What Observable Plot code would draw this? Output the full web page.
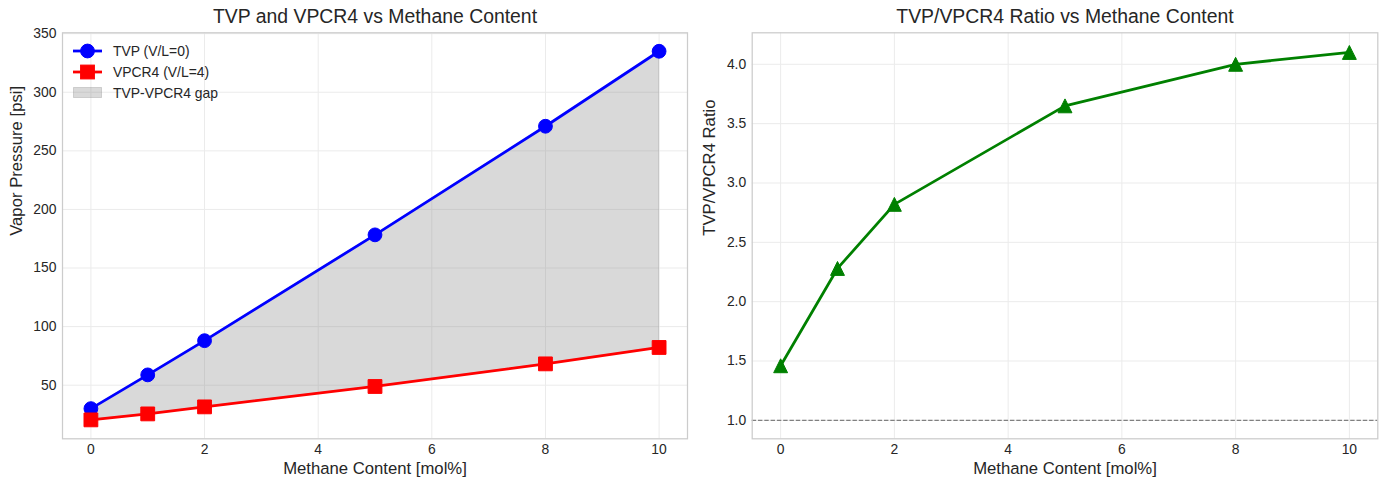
<!DOCTYPE html>
<html>
<head>
<meta charset="utf-8">
<script src="https://cdn.jsdelivr.net/npm/d3@7"></script>
<script src="https://cdn.jsdelivr.net/npm/@observablehq/plot@0.6"></script>
<style>
  html, body { margin: 0; padding: 0; background: #fff; }
  #wrap { position: relative; width: 1387px; height: 487px; display: flex; font-family: "Liberation Sans", Arial, sans-serif; color: #262626; }
  #wrap svg { overflow: visible; }
  .legend { position: absolute; left: 73px; top: 40px; font-size: 13.9px; color: #262626; }
  .item { position: absolute; left: 0; height: 22px; display: flex; align-items: center; white-space: nowrap; }
  .item span { margin-left: 11px; }
</style>
</head>
<body>
<div id="wrap">
  <div id="left" style="position:relative;width:693px;height:487px;"></div>
  <div id="right" style="position:relative;width:694px;height:487px;"></div>
</div>
<script>
// ---- data ----
const methane = [0, 1, 2, 5, 8, 10];
const tvp = [30, 58.8, 88, 178.3, 271, 335];
const vpcr4 = [20.4, 25.5, 31.5, 48.9, 68.2, 82.2];
const ratio = [1.46, 2.28, 2.82, 3.65, 4.0, 4.10];
const xTicks = [0, 2, 4, 6, 8, 10];
const yTicksLeft = [50, 100, 150, 200, 250, 300, 350];
const yTicksRight = [1.0, 1.5, 2.0, 2.5, 3.0, 3.5, 4.0];
const titles = ["TVP and VPCR4 vs Methane Content", "TVP/VPCR4 Ratio vs Methane Content"];
const xLabel = "Methane Content [mol%]";
const yLabels = ["Vapor Pressure [psi]", "TVP/VPCR4 Ratio"];
const legendLabels = ["TVP (V/L=0)", "VPCR4 (V/L=4)", "TVP-VPCR4 gap"];

const rows = methane.map((m, i) => ({m, tvp: tvp[i], vpcr4: vpcr4[i], ratio: ratio[i]}));

// matplotlib-like marker shapes (half-size = r)
const squareSym = { draw(ctx, size) { const h = Math.sqrt(size / Math.PI); ctx.moveTo(-h, -h); ctx.lineTo(h, -h); ctx.lineTo(h, h); ctx.lineTo(-h, h); ctx.closePath(); } };
const triSym = { draw(ctx, size) { const h = Math.sqrt(size / Math.PI); ctx.moveTo(0, -h); ctx.lineTo(h, h); ctx.lineTo(-h, h); ctx.closePath(); } };

const FONT = "'Liberation Sans', Arial, sans-serif";
const TXT = "#262626";
const GRID = "#ebebeb";
const EDGE = "#cccccc";

function common(ticksY, fmtY) {
  return [
    Plot.gridX(xTicks, {stroke: GRID, strokeOpacity: 1, strokeWidth: 1}),
    Plot.gridY(ticksY, {stroke: GRID, strokeOpacity: 1, strokeWidth: 1}),
    Plot.axisX(xTicks, {tickSize: 0, tickPadding: 5, fontSize: 13.9, fill: TXT, label: null}),
    Plot.axisY(ticksY, {tickSize: 0, tickPadding: 6, fontSize: 13.9, fill: TXT, label: null, tickFormat: fmtY})
  ];
}
function labels(i, dxY) {
  return [
    Plot.text([titles[i]], {frameAnchor: "top", dy: -15.6, fontSize: 19.4, fill: TXT, lineAnchor: "middle"}),
    Plot.text([xLabel], {frameAnchor: "bottom", dy: 30, fontSize: 16.7, fill: TXT, lineAnchor: "middle"}),
    Plot.text([yLabels[i]], {frameAnchor: "left", dx: dxY, rotate: -90, fontSize: 16.7, fill: TXT, lineAnchor: "middle"})
  ];
}

const left = Plot.plot({
  width: 693, height: 487,
  marginLeft: 62, marginRight: 6, marginTop: 32.3, marginBottom: 48.7,
  style: {fontFamily: FONT, background: "white", overflow: "visible"},
  x: {domain: [-0.5, 10.5]},
  y: {domain: [4.25, 350.75]},
  marks: [
    ...common(yTicksLeft, d3.format("d")),
    Plot.areaY(rows, {x: "m", y1: "vpcr4", y2: "tvp", fill: "gray", fillOpacity: 0.3, stroke: "gray", strokeOpacity: 0.3, strokeWidth: 1}),
    Plot.line(rows, {x: "m", y: "tvp", stroke: "blue", strokeWidth: 2.78}),
    Plot.dot(rows, {x: "m", y: "tvp", r: 6.9, fill: "blue", stroke: "blue", strokeWidth: 1, symbol: "circle"}),
    Plot.line(rows, {x: "m", y: "vpcr4", stroke: "red", strokeWidth: 2.78}),
    Plot.dot(rows, {x: "m", y: "vpcr4", r: 6.9, fill: "red", stroke: "red", strokeWidth: 1, symbol: squareSym}),
    Plot.frame({stroke: EDGE, strokeWidth: 1.25}),
    ...labels(0, -46)
  ]
});

const right = Plot.plot({
  width: 694, height: 487,
  marginLeft: 58.7, marginRight: 9.7, marginTop: 32.3, marginBottom: 48.7,
  style: {fontFamily: FONT, background: "white", overflow: "visible"},
  x: {domain: [-0.5, 10.5]},
  y: {domain: [0.8445, 4.2655]},
  marks: [
    ...common(yTicksRight, d3.format(".1f")),
    Plot.ruleY([1], {stroke: "gray", strokeWidth: 1.2, strokeDasharray: "4.4,1.9"}),
    Plot.line(rows, {x: "m", y: "ratio", stroke: "green", strokeWidth: 2.78}),
    Plot.dot(rows, {x: "m", y: "ratio", r: 6.95, fill: "green", stroke: "green", strokeWidth: 1, symbol: triSym}),
    Plot.frame({stroke: EDGE, strokeWidth: 1.25}),
    ...labels(1, -43)
  ]
});

document.getElementById("left").appendChild(left);
document.getElementById("right").appendChild(right);

// legend (drawn inside the left axes, like matplotlib)
const lg = document.createElement("div");
lg.className = "legend";
const rowsY = [51, 72, 93];
const handles = [
  `<svg width="29" height="22"><line x1="0" y1="11" x2="29" y2="11" stroke="blue" stroke-width="2.78"/><circle cx="14.5" cy="11" r="6.9" fill="blue" stroke="blue"/></svg>`,
  `<svg width="29" height="22"><line x1="0" y1="11" x2="29" y2="11" stroke="red" stroke-width="2.78"/><rect x="7.6" y="4.1" width="13.8" height="13.8" fill="red" stroke="red"/></svg>`,
  `<svg width="29" height="22"><rect x="0.5" y="5.5" width="28" height="10" fill="gray" fill-opacity="0.3" stroke="gray" stroke-opacity="0.3"/></svg>`
];
legendLabels.forEach((t, i) => {
  const it = document.createElement("div");
  it.className = "item";
  it.style.top = (rowsY[i] - 11 - 40) + "px";
  it.innerHTML = handles[i] + `<span>${t}</span>`;
  lg.appendChild(it);
});
document.getElementById("left").appendChild(lg);
</script>
</body>
</html>
